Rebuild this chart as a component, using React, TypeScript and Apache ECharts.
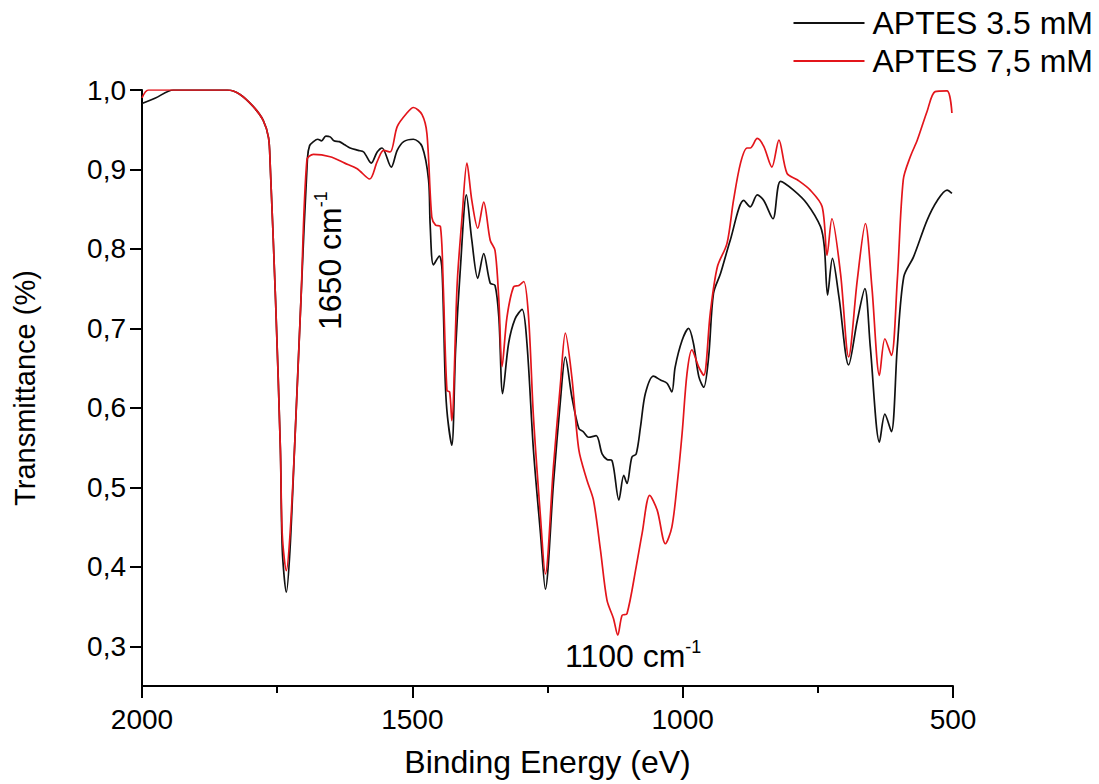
import React, { useEffect, useRef } from "react";
import * as echarts from "echarts";

// ---- data ----
const xTicks = [2000, 1500, 1000, 500];
const yTicks = [0.3, 0.4, 0.5, 0.6, 0.7, 0.8, 0.9, 1.0];

const seriesNames = ["APTES 3.5 mM", "APTES 7,5 mM"];

const blackWn = [2000, 1975, 1942, 1842, 1820, 1794, 1776, 1766, 1763, 1753, 1744, 1740.5, 1733, 1726.3, 1718, 1706, 1694, 1690, 1683, 1675, 1668, 1660, 1652, 1645, 1635, 1625, 1615, 1600, 1590, 1576, 1565, 1556, 1539, 1528, 1516, 1498, 1482, 1470, 1467, 1461, 1450, 1445, 1439, 1435, 1427, 1420, 1411, 1400, 1390, 1379, 1368, 1356, 1347, 1340, 1333, 1322, 1310, 1297, 1288, 1276, 1263, 1254, 1239, 1226, 1217, 1205, 1192, 1184, 1174, 1160, 1149, 1140, 1131, 1118, 1109, 1103, 1094, 1086, 1078, 1069, 1054, 1041, 1029, 1020, 1014, 1001, 989, 980, 970, 961, 952, 943, 930, 912, 887, 875, 862, 850, 833, 819, 795, 770, 745, 738, 732, 723, 711, 693, 677, 663, 653, 636, 626, 614, 603, 591, 573, 548, 529, 511, 502];
const blackT = [0.983, 0.99, 1.0, 1.0, 0.995, 0.979, 0.962, 0.94, 0.908, 0.736, 0.547, 0.421, 0.368, 0.421, 0.547, 0.736, 0.914, 0.93, 0.935, 0.938, 0.936, 0.942, 0.941, 0.936, 0.935, 0.931, 0.927, 0.924, 0.922, 0.908, 0.922, 0.927, 0.903, 0.924, 0.935, 0.938, 0.929, 0.887, 0.83, 0.78, 0.791, 0.773, 0.631, 0.589, 0.553, 0.673, 0.777, 0.868, 0.811, 0.763, 0.794, 0.757, 0.754, 0.714, 0.618, 0.681, 0.712, 0.724, 0.681, 0.547, 0.442, 0.372, 0.505, 0.61, 0.664, 0.614, 0.574, 0.57, 0.563, 0.565, 0.542, 0.535, 0.534, 0.484, 0.515, 0.505, 0.538, 0.542, 0.576, 0.618, 0.64, 0.635, 0.631, 0.62, 0.651, 0.685, 0.7, 0.681, 0.639, 0.626, 0.664, 0.744, 0.769, 0.811, 0.861, 0.853, 0.868, 0.861, 0.838, 0.885, 0.874, 0.857, 0.828, 0.803, 0.742, 0.788, 0.74, 0.654, 0.71, 0.75, 0.677, 0.557, 0.592, 0.57, 0.677, 0.765, 0.79, 0.836, 0.861, 0.874, 0.87];

const redWn = [2000, 1988, 1842, 1820, 1794, 1776, 1766, 1763, 1753, 1744, 1740.5, 1733, 1726.3, 1718, 1706, 1695, 1683, 1652, 1625, 1602, 1579, 1565, 1553, 1541, 1528, 1510, 1498, 1482, 1473, 1464, 1457, 1448, 1443, 1436, 1431, 1427, 1417, 1408, 1399, 1390, 1379, 1368, 1356, 1347, 1340, 1334, 1325, 1313, 1303, 1294, 1285, 1276, 1263, 1254, 1239, 1226, 1217, 1205, 1192, 1177, 1165, 1152, 1140, 1128, 1120, 1112, 1103, 1086, 1075, 1061, 1047, 1032, 1020, 1010, 1001, 992, 983, 970, 961, 949, 936, 918, 906, 893, 881, 875, 862, 850, 835, 822, 807, 788, 764, 742, 733, 724, 708, 693, 677, 662, 650, 636, 626, 614, 603, 592, 579, 566, 548, 533, 511, 502];
const redT = [0.99, 1.0, 1.0, 0.995, 0.979, 0.962, 0.94, 0.908, 0.736, 0.547, 0.44, 0.395, 0.44, 0.547, 0.736, 0.912, 0.919, 0.916, 0.908, 0.901, 0.888, 0.91, 0.924, 0.922, 0.954, 0.971, 0.978, 0.969, 0.945, 0.84, 0.83, 0.828, 0.757, 0.622, 0.62, 0.584, 0.757, 0.84, 0.908, 0.861, 0.826, 0.859, 0.811, 0.798, 0.736, 0.652, 0.714, 0.752, 0.754, 0.759, 0.714, 0.589, 0.463, 0.391, 0.526, 0.631, 0.694, 0.639, 0.547, 0.509, 0.484, 0.421, 0.358, 0.335, 0.314, 0.339, 0.341, 0.4, 0.442, 0.49, 0.471, 0.429, 0.45, 0.505, 0.568, 0.643, 0.673, 0.651, 0.641, 0.719, 0.777, 0.807, 0.861, 0.908, 0.927, 0.927, 0.939, 0.929, 0.903, 0.937, 0.895, 0.887, 0.874, 0.853, 0.792, 0.838, 0.769, 0.664, 0.761, 0.832, 0.752, 0.641, 0.687, 0.666, 0.761, 0.887, 0.916, 0.937, 0.973, 0.998, 0.999, 0.971];

const annotations = [
  { main: "1100 cm", sup: "-1" },
  { main: "1650 cm", sup: "-1" },
];

const FONT = "'Liberation Sans', Arial, Helvetica, sans-serif";
const BLACK = "#111111";
const RED = "#e3151b";

function zip(xs: number[], ys: number[]) {
  return xs.map((x, i) => [x, ys[i]]);
}

export default function App() {
  const ref = useRef<HTMLDivElement>(null);
  useEffect(() => {
    if (!ref.current) return;
    const chart = echarts.init(ref.current, null, { renderer: "svg" });
    chart.setOption({
      animation: false,
      backgroundColor: "#ffffff",
      textStyle: { fontFamily: FONT, color: "#000" },
      grid: { left: 142, right: 146, top: 90, bottom: 98, containLabel: false, outerBoundsMode: "none" },
      legend: {
        orient: "vertical",
        right: 1,
        top: 2,
        itemGap: 6,
        itemWidth: 71,
        itemHeight: 2,
        icon: "rect",
        textStyle: { fontSize: 32, color: "#000", fontFamily: FONT, padding: [0, 0, 0, 3] },
        data: [
          { name: seriesNames[0], itemStyle: { color: BLACK } },
          { name: seriesNames[1], itemStyle: { color: RED } },
        ],
      },
      xAxis: {
        type: "value",
        inverse: true,
        min: 500,
        max: 2000,
        interval: 500,
        name: "Binding Energy (eV)",
        nameLocation: "middle",
        nameGap: 60,
        nameTextStyle: { fontSize: 32, color: "#000", fontFamily: FONT },
        axisLine: { show: true, lineStyle: { color: "#000", width: 2 } },
        axisTick: { show: true, length: 12, lineStyle: { color: "#000", width: 2 } },
        minorTick: { show: true, splitNumber: 2, length: 7, lineStyle: { color: "#000", width: 2 } },
        splitLine: { show: false },
        axisLabel: {
          fontSize: 28,
          color: "#000",
          fontFamily: FONT,
          margin: 19,
          customValues: xTicks,
          formatter: (v: number) => String(v),
        },
      },
      yAxis: {
        type: "value",
        min: 0.25,
        max: 1.0,
        name: "Transmittance (%)",
        nameLocation: "middle",
        nameGap: 103,
        nameTextStyle: { fontSize: 29, color: "#000", fontFamily: FONT },
        axisLine: { show: true, lineStyle: { color: "#000", width: 2 } },
        axisTick: { show: true, length: 12, customValues: yTicks, lineStyle: { color: "#000", width: 2 } },
        splitLine: { show: false },
        axisLabel: {
          fontSize: 28,
          color: "#000",
          fontFamily: FONT,
          margin: 16,
          customValues: yTicks,
          formatter: (v: number) => v.toFixed(1).replace(".", ","),
        },
      },
      graphic: [
        {
          type: "text",
          x: 565,
          y: 656,
          style: {
            text: `{a|${annotations[0].main}}{b|${annotations[0].sup}}`,
            align: "left",
            verticalAlign: "middle",
            rich: {
              a: { fontSize: 32, fontFamily: FONT, fill: "#000", lineHeight: 36 },
              b: { fontSize: 18, fontFamily: FONT, fill: "#000", verticalAlign: "top", lineHeight: 18 },
            },
          },
        },
        {
          type: "text",
          x: 330,
          y: 330,
          rotation: Math.PI / 2,
          style: {
            text: `{a|${annotations[1].main}}{b|${annotations[1].sup}}`,
            align: "left",
            verticalAlign: "middle",
            rich: {
              a: { fontSize: 32, fontFamily: FONT, fill: "#000", lineHeight: 36 },
              b: { fontSize: 18, fontFamily: FONT, fill: "#000", verticalAlign: "top", lineHeight: 18 },
            },
          },
        },
      ],
      series: [
        {
          name: seriesNames[0],
          type: "line",
          data: zip(blackWn, blackT),
          showSymbol: false,
          smooth: 0.3,
          lineStyle: { color: BLACK, width: 1.7 },
          itemStyle: { color: BLACK },
          z: 2,
        },
        {
          name: seriesNames[1],
          type: "line",
          data: zip(redWn, redT),
          showSymbol: false,
          smooth: 0.3,
          lineStyle: { color: RED, width: 1.7 },
          itemStyle: { color: RED },
          z: 3,
        },
      ],
    });
    return () => chart.dispose();
  }, []);
  return (
    <div
      ref={ref}
      style={{ position: "fixed", left: 0, top: 0, width: 1099, height: 784, background: "#fff" }}
    />
  );
}
